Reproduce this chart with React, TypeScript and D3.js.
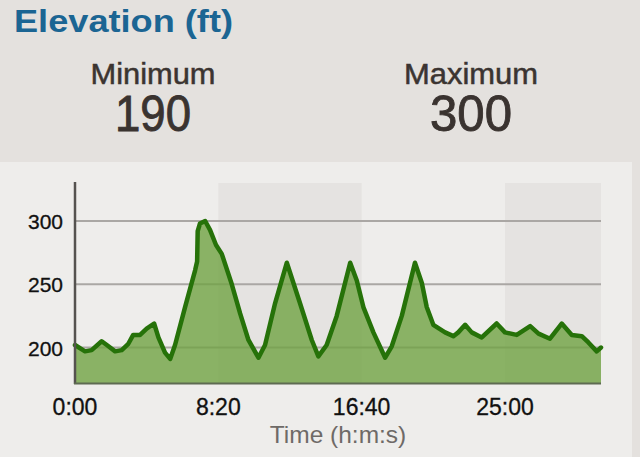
import React from "react";
import * as d3 from "d3";

const times = [
  0, 35, 58, 93, 111, 140, 163, 186, 203, 227, 250, 276, 291, 314, 332, 349,
  384, 419, 426, 428, 436, 454, 471, 492, 512, 547, 576, 605, 640, 663, 698,
  739, 785, 826, 849, 878, 913, 960, 983, 1006, 1041, 1082, 1105, 1140, 1186,
  1210, 1227, 1250, 1291, 1320, 1337, 1361, 1384, 1419, 1471, 1500, 1541,
  1588, 1617, 1657, 1698, 1733, 1768, 1791, 1820, 1835,
];
const elevations = [
  202, 197, 198, 205, 202, 197, 198, 203, 210, 210, 215, 219, 208, 196, 191, 202,
  232, 261, 268, 292, 298, 300, 293, 281, 274, 250, 227, 206, 192, 202, 235,
  267, 235, 206, 193, 202, 225, 267, 253, 232, 212, 192, 201, 225, 267,
  251, 232, 218, 212, 209, 212, 218, 212, 208, 219, 212, 210,
  217, 211, 207, 219, 210, 209, 204, 197, 200,
];
const yTicks = [200, 250, 300];
const xTicks = [0, 500, 1000, 1500];
const xTickLabels = ["0:00", "8:20", "16:40", "25:00"];
const bands = [
  [500, 1000],
  [1500, 1835],
];
const title = "Elevation (ft)";
const statLabels = ["Minimum", "Maximum"];
const statValues = ["190", "300"];
const xAxisTitle = "Time (h:m:s)";

const W = 640;
const H = 457;
const FONT = "'Liberation Sans', Arial, Helvetica, sans-serif";

export default function App() {
  const x = d3.scaleLinear().domain([0, 1835]).range([75, 601]);
  const y = d3.scaleLinear().domain([172, 330]).range([383, 183]);
  const data = times.map((t, i) => ({ t, v: elevations[i] }));
  const line = d3
    .line<{ t: number; v: number }>()
    .x((d) => x(d.t))
    .y((d) => y(d.v));
  const area = d3
    .area<{ t: number; v: number }>()
    .x((d) => x(d.t))
    .y0(y(172))
    .y1((d) => y(d.v));

  const statX = [153, 471];
  const statLabelLen = [125, 134];
  const statValueLen = [76, 82];

  return (
    <svg
      width={W}
      height={H}
      style={{ position: "absolute", left: 0, top: 0 }}
      fontFamily={FONT}
    >
      <rect x={0} y={0} width={W} height={H} fill="#e4e1de" />
      <rect x={0} y={162} width={632} height={H - 162} fill="#eeedeb" />

      <text
        x={14}
        y={32}
        fontSize={32}
        fontWeight="bold"
        fill="#1b6593"
        textLength={219}
        lengthAdjust="spacingAndGlyphs"
      >
        {title}
      </text>

      {statLabels.map((s, i) => (
        <g key={s}>
          <text
            x={statX[i]}
            y={84}
            fontSize={29}
            fill="#3b3431"
            stroke="#3b3431"
            strokeWidth={0.5}
            textAnchor="middle"
            textLength={statLabelLen[i]}
            lengthAdjust="spacingAndGlyphs"
          >
            {s}
          </text>
          <text
            x={statX[i]}
            y={131}
            fontSize={50}
            fill="#3a3330"
            stroke="#3a3330"
            strokeWidth={0.9}
            textAnchor="middle"
            textLength={statValueLen[i]}
            lengthAdjust="spacingAndGlyphs"
          >
            {statValues[i]}
          </text>
        </g>
      ))}

      {bands.map((b, i) => (
        <rect
          key={i}
          x={x(b[0])}
          y={183}
          width={x(b[1]) - x(b[0])}
          height={383 - 183}
          fill="#e5e3e1"
        />
      ))}

      {yTicks.map((t) => (
        <g key={t}>
          <line
            x1={x(0)}
            x2={x(1835)}
            y1={y(t)}
            y2={y(t)}
            stroke="#aaa7a4"
            strokeWidth={2}
          />
          <text
            x={63}
            y={y(t) + 8}
            fontSize={21}
            fill="#111"
            stroke="#111"
            strokeWidth={0.3}
            textAnchor="end"
          >
            {t}
          </text>
        </g>
      ))}

      <path d={area(data) ?? ""} fill="#70a244" fillOpacity={0.8} />
      <path
        d={line(data) ?? ""}
        fill="none"
        stroke="#267209"
        strokeWidth={4.5}
        strokeLinejoin="round"
        strokeLinecap="round"
      />

      <line x1={x(0)} x2={x(0)} y1={182} y2={384} stroke="#55524f" strokeWidth={2.5} />
      <line x1={x(0) - 1} x2={x(1835)} y1={383.5} y2={383.5} stroke="#5e6b52" strokeWidth={2} />

      {xTicks.map((t, i) => (
        <text
          key={t}
          x={x(t)}
          y={415}
          fontSize={23}
          fill="#111"
          stroke="#111"
          strokeWidth={0.3}
          textAnchor="middle"
        >
          {xTickLabels[i]}
        </text>
      ))}

      <text x={338} y={443} fontSize={24.5} fill="#6e6a67" textAnchor="middle">
        {xAxisTitle}
      </text>
    </svg>
  );
}
